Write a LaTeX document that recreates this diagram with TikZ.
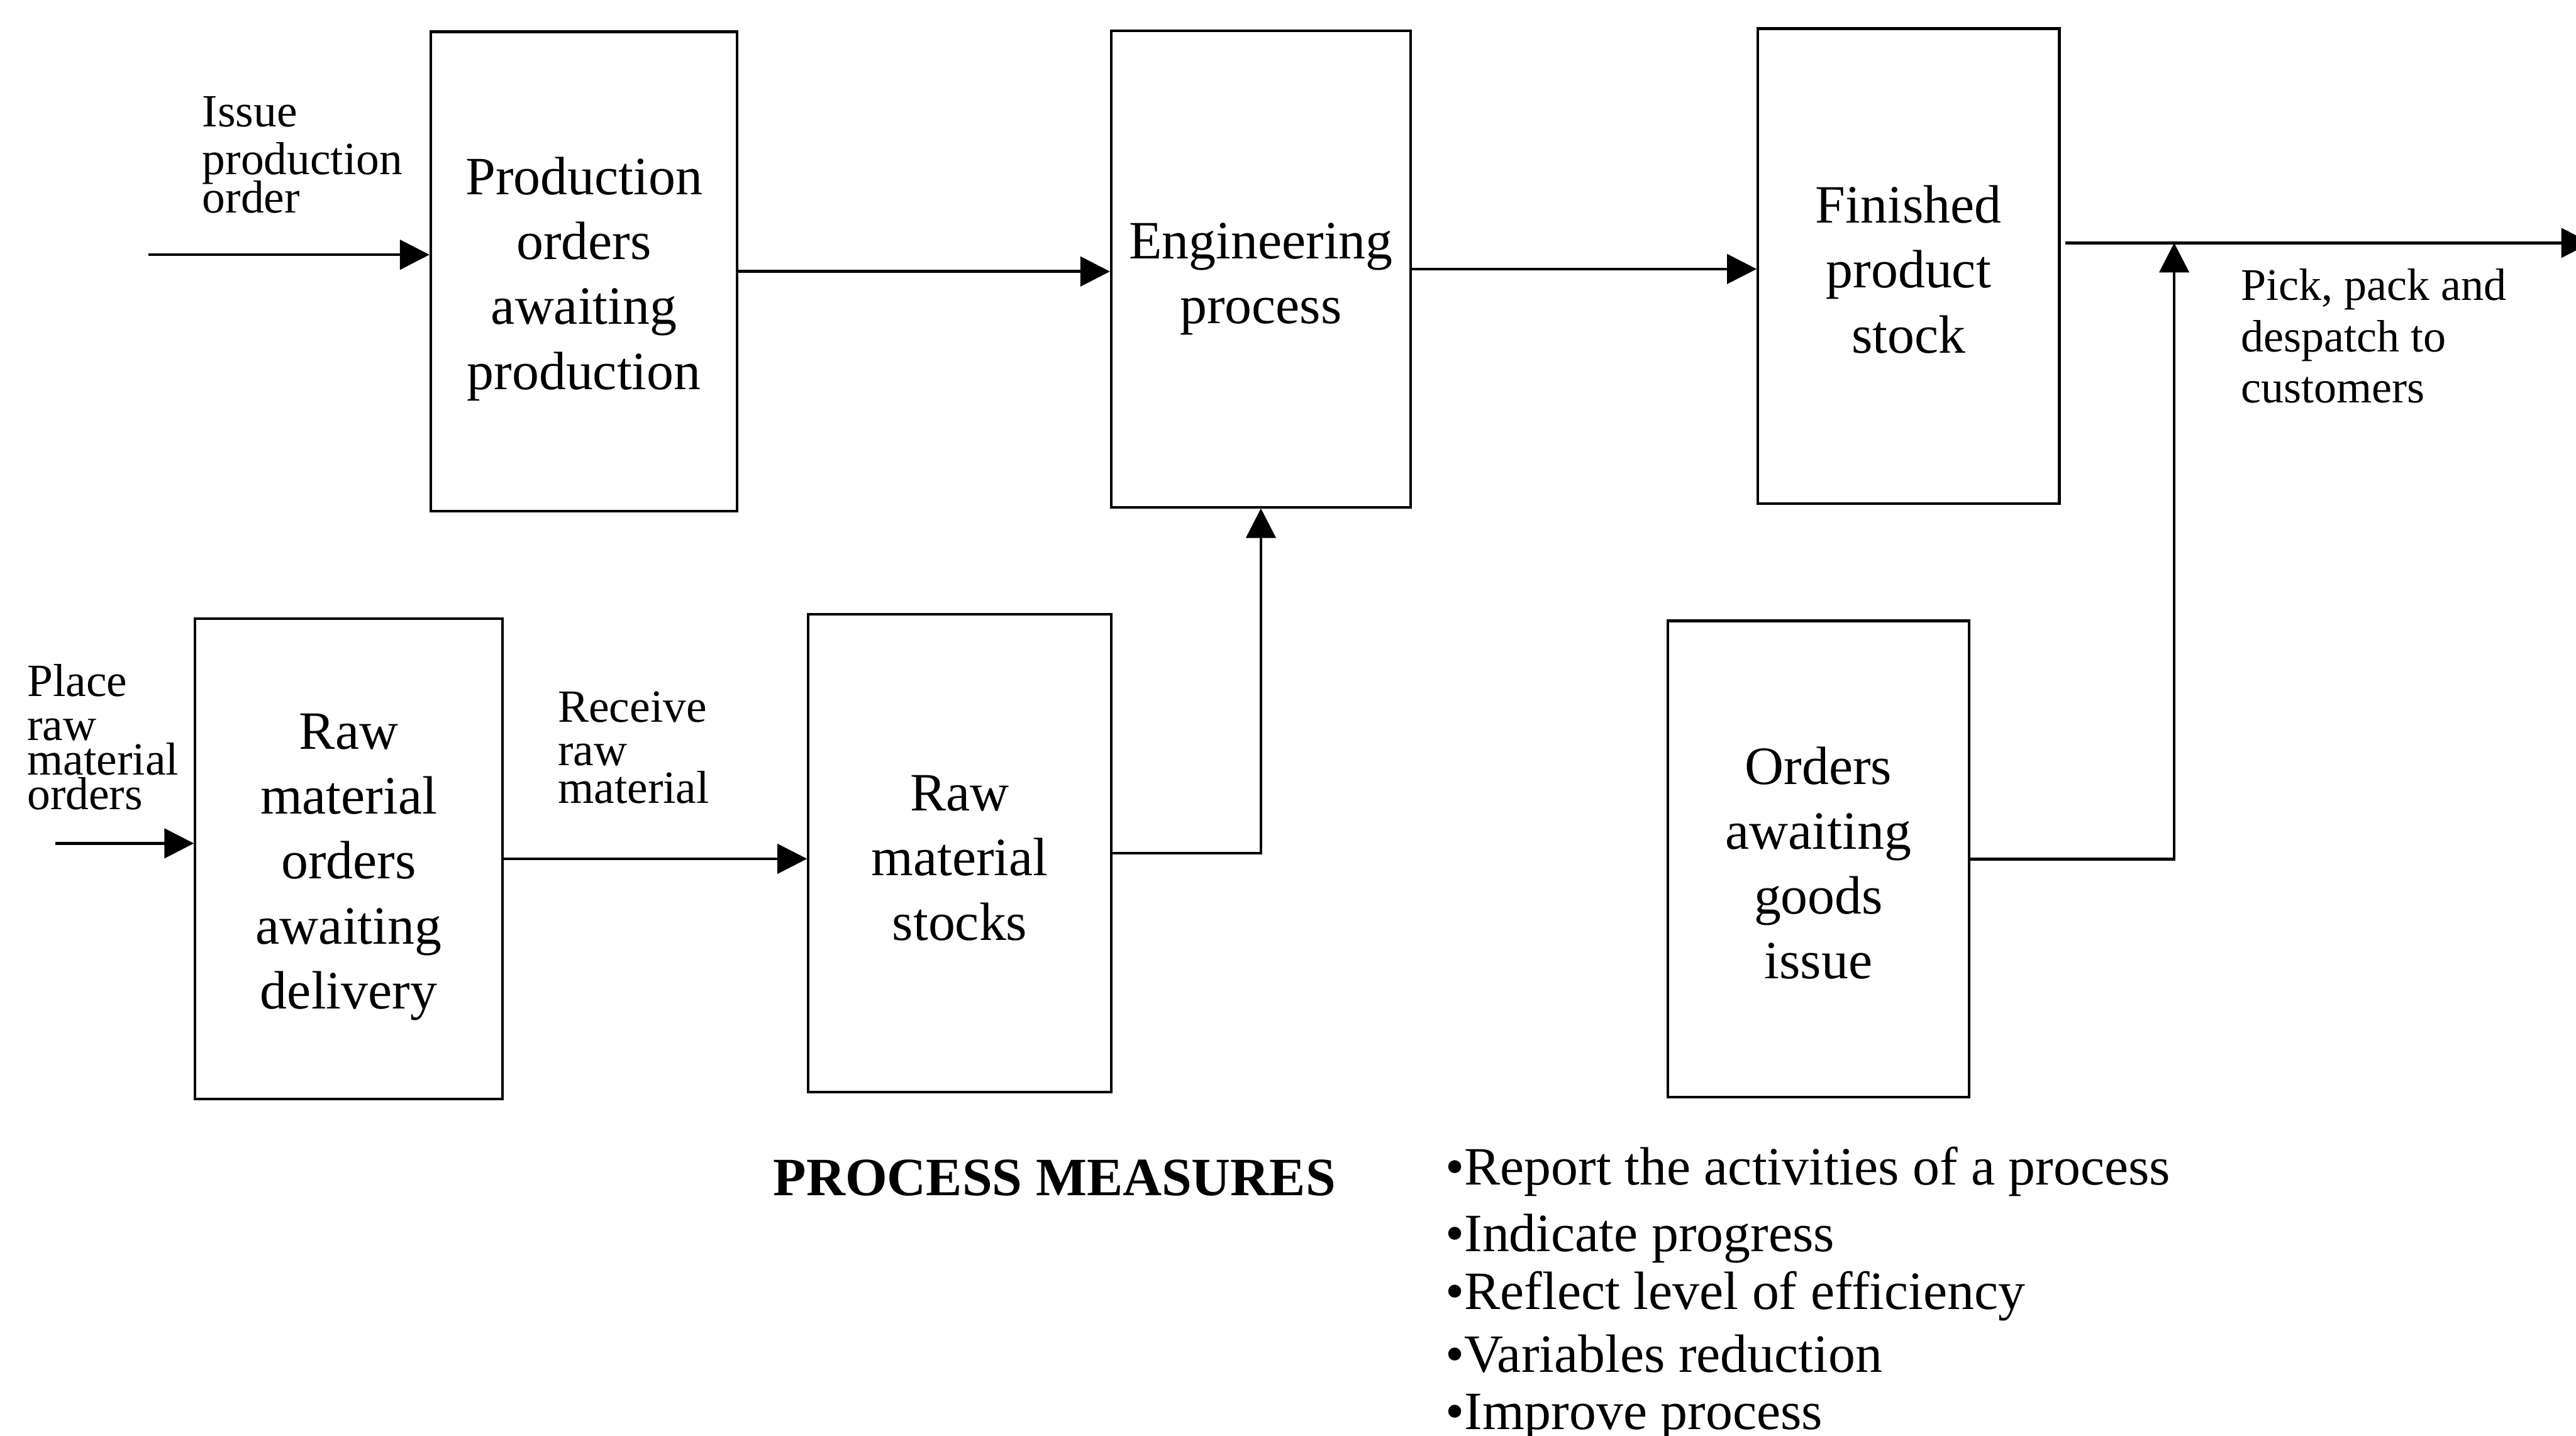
\documentclass[tikz,border=0pt]{standalone}
\usepackage{fontspec}
\setmainfont{Liberation Serif}
\usetikzlibrary{arrows.meta}

% font set-ups for box texts, flow labels and the notes below the chart
\newcommand\boxfont{\fontsize{18.7pt}{22.5pt}\selectfont}
\newcommand\lblfontat[2]{\fontsize{#1}{#2}\selectfont\lineskiplimit=-50pt\relax\lineskip=0pt\relax}

\tikzset{
  stockbox/.style={draw, line width=0.9pt, rectangle, inner sep=0pt},
  boxtext/.style={align=center, inner sep=0pt, font=\boxfont},
  flow/.style={line width=1pt, -{Triangle[length=3.6mm,width=3.6mm]}},
  % multi-line labels are placed by the baseline of their last line
  flowlabel/.style={anchor=base west, align=left, inner sep=0pt},
}

\begin{document}
\begin{tikzpicture}[x=0.02cm, y=-0.02cm]
  \useasboundingbox (0,0) rectangle (1568,874);

  % stocks and queues
  \node[stockbox, minimum width=3.732cm, minimum height=5.84cm]  (prodorders)  at (355.5,165.3) {};
  \node[stockbox, minimum width=3.644cm, minimum height=5.80cm]  (engineering) at (767.5,163.8) {};
  \node[stockbox, minimum width=3.67cm,  minimum height=5.784cm] (finished)    at (1161.75,162) {};
  \node[stockbox, minimum width=3.74cm,  minimum height=5.846cm] (rmorders)    at (212.3,522.9) {};
  \node[stockbox, minimum width=3.688cm, minimum height=5.82cm]  (rmstocks)    at (584.2,519.5) {};
  \node[stockbox, minimum width=3.674cm, minimum height=5.80cm]  (custorders)  at (1106.9,523) {};

  % their texts, set a little below the middle of each box
  \node[boxtext] (prodorderstext)  at ([yshift=-0.09cm]prodorders.center)  {Production\\orders\\awaiting\\production};
  \node[boxtext] (engineeringtext) at ([yshift=-0.12cm]engineering.center) {Engineering\\process};
  \node[boxtext] (finishedtext)    at ([yshift=-0.04cm]finished.center)    {Finished\\product\\stock};
  \node[boxtext] (rmorderstext)    at ([yshift=-0.10cm]rmorders.center)    {Raw\\material\\orders\\awaiting\\delivery};
  \node[boxtext] (rmstockstext)    at ([yshift=-0.06cm]rmstocks.center)    {Raw\\material\\stocks};
  \node[boxtext] (custorderstext)  at ([yshift=-0.05cm]custorders.center)  {Orders\\awaiting\\goods\\issue};

  % free ends and the junction of the despatch line
  \coordinate (issuein) at (90.4,155.1);
  \coordinate (placein) at (33.5,513.5);
  \coordinate (despatch) at (1577,147.9);
  \coordinate (merge) at (1323.4,147.9);

  % flows
  \draw[flow] (issuein) -- (prodorders.west |- issuein);
  \draw[flow] (prodorders.east) -- (engineering.west |- prodorders.east);
  \draw[flow] (engineering.east) -- (finished.west |- engineering.east);
  \draw[flow] ([xshift=0.06cm]finished.east |- despatch) -- (despatch);
  \draw[flow] (custorders.east) -- (merge |- custorders.east) -- (merge);
  \draw[flow] (placein) -- (rmorders.west |- placein);
  \draw[flow] (rmorders.east) -- (rmstocks.west |- rmorders.east);
  \draw[flow] (rmstocks.east) -- (engineering.south |- rmstocks.east) -- (engineering.south);

  % flow labels
  \node[flowlabel, font={\lblfontat{16pt}{13.15pt}}] (issuelbl) at (122.9,129.4)
    {Issue\\[3.5pt]production\\order};
  \node[flowlabel, font={\lblfontat{16pt}{12pt}}] (placelbl) at (16.3,493)
    {Place\\[3.2pt]raw\\material\\orders};
  \node[flowlabel, font={\lblfontat{16pt}{13.03pt}}] (receivelbl) at (339.3,488.9)
    {Receive\\[2pt]raw\\material};
  \node[flowlabel, font={\lblfontat{15.7pt}{17.8pt}}] (picklbl) at (1363.6,245.3)
    {Pick, pack and\\despatch to\\customers};

  % process measures
  \node[flowlabel, font={\boxfont\bfseries}] (measures) at (470.4,727.9) {PROCESS MEASURES};
  \node[flowlabel, font={\lblfontat{18.7pt}{19.92pt}}] (purposes) at (879.5,870.5)
    {•Report the activities of a process\\[3.2pt]•Indicate progress\\•Reflect level of efficiency\\[1.9pt]•Variables reduction\\•Improve process};
\end{tikzpicture}
\end{document}
